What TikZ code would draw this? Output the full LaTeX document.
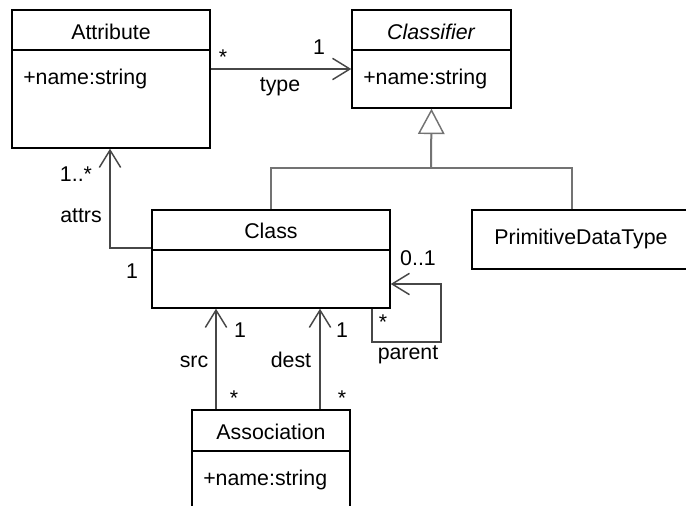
\documentclass[tikz,border=0pt]{standalone}
\usepackage{fontspec}
\setmainfont{Liberation Sans}
\usetikzlibrary{arrows.meta,positioning,fit}

\begin{document}
\begin{tikzpicture}[
  x=0.75pt,y=-0.75pt,
  font=\fontsize{16}{19}\selectfont,
  umlbox/.style={draw=black,line width=1.1pt,fill=white,inner sep=0pt},
  divider/.style={draw=black,line width=1.1pt},
  title/.style={anchor=base,inner sep=0pt},
  member/.style={anchor=base west,inner sep=0pt},
  lbl/.style={anchor=base,inner sep=0pt},
  star/.style={inner sep=0pt},
  assoc/.style={draw=black!72,line width=1.1pt,
    -{Straight Barb[length=13pt,width=16pt,line width=1.1pt]}},
  gen/.style={draw=black!55,line width=1.5pt}
]
  \clip (0,0) rectangle (686,506);

  % Attribute
  \node[umlbox,fit={(12,10) (210,148)}] (attr) {};
  \draw[divider] (attr.west |- 0,50) -- (attr.east |- 0,50);
  \node[title] (attrname) at (111,40) {Attribute};
  \node[member] (attrmem) at (23,85) {+name:string};

  % Classifier
  \node[umlbox,fit={(352,10) (511,108)}] (classifier) {};
  \draw[divider] (classifier.west |- 0,50) -- (classifier.east |- 0,50);
  \node[title] (classifiername) at (431,40) {\itshape Classifier};
  \node[member] (classifiermem) at (363,85) {+name:string};

  % Class
  \node[umlbox,fit={(152,210) (390,308)}] (cls) {};
  \draw[divider] (cls.west |- 0,250) -- (cls.east |- 0,250);
  \node[title] (clsname) at (271,239) {Class};

  % PrimitiveDataType
  \node[umlbox,fit={(472,210) (692,269)}] (prim) {};
  \node[title] (primname) at (581,245) {PrimitiveDataType};

  % Association
  \node[umlbox,fit={(192,410) (350,530)}] (asso) {};
  \draw[divider] (asso.west |- 0,451) -- (asso.east |- 0,451);
  \node[title] (assoname) at (271,439) {Association};
  \node[member] (assomem) at (203,485) {+name:string};

  % type
  \draw[assoc] (attr.east |- 0,69) -- (classifier.west |- 0,69);
  \node[star] at (223,57) {*};
  \node[lbl] at (319,55) {1};
  \node[lbl] at (280,92) {type};

  % generalization
  \coordinate (genjoin) at (431,168);
  \draw[gen] (cls.north) |- (genjoin);
  \draw[gen] (prim.north -| 572,0) |- (genjoin);
  \draw[gen,-{Triangle[open,length=19pt,width=20pt,line width=1.1pt]}]
    (genjoin) -- (classifier.south);

  % attrs
  \draw[assoc] (cls.west |- 0,248) -| (attr.south -| 110,0);
  \node[lbl] at (76,182) {1..*};
  \node[lbl] at (81,223) {attrs};
  \node[lbl] at (132,278) {1};

  % src / dest
  \draw[assoc] (asso.north -| 216,0) -- (cls.south -| 216,0);
  \draw[assoc] (asso.north -| 320,0) -- (cls.south -| 320,0);
  \node[lbl] at (240,337) {1};
  \node[lbl] at (342,337) {1};
  \node[lbl] at (194,367) {src};
  \node[lbl] at (291,367) {dest};
  \node[star] at (234,398) {*};
  \node[star] at (342,398) {*};

  % parent
  \coordinate (loopcorner) at (441,342);
  \draw[assoc] (cls.south -| 372,0) |- (loopcorner) |- (cls.east |- 0,284);
  \node[lbl] at (418,266) {0..1};
  \node[star] at (383,322) {*};
  \node[lbl] at (408,359) {parent};
\end{tikzpicture}
\end{document}
